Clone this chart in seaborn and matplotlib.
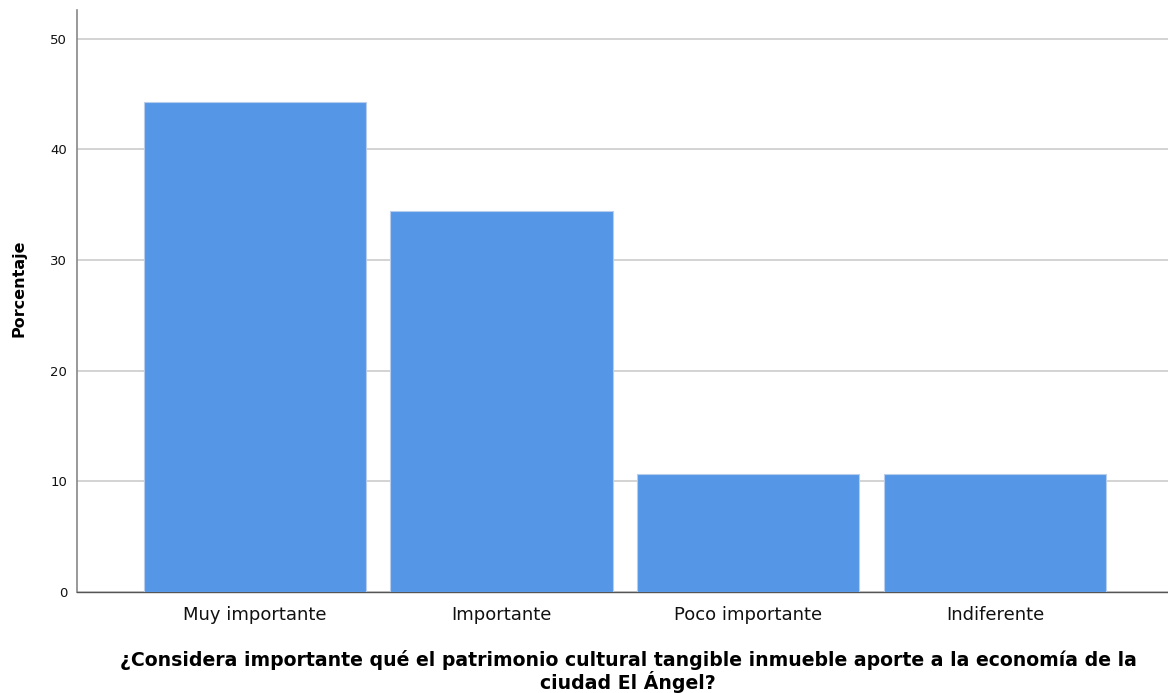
import pandas as pd
import numpy as np
import matplotlib.pyplot as plt
import seaborn as sns

categories = ["Muy importante", "Importante", "Poco importante", "Indiferente"]
porcentaje = [44.26, 34.43, 10.66, 10.66]
y_ticks = [0, 10, 20, 30, 40, 50]

df = pd.DataFrame({"categoria": categories, "porcentaje": porcentaje})

sns.set_style("white")
plt.rcParams["font.family"] = ["DejaVu Sans"]

fig = plt.figure(figsize=(11.68, 6.93), dpi=100)
ax = fig.add_axes([0.0659, 0.1457, 0.9341, 0.8399])

sns.barplot(data=df, x="categoria", y="porcentaje", color="#5596e6",
            width=0.9, saturation=1, edgecolor="#b8cdec", linewidth=0.8,
            ax=ax, zorder=3)

ax.set_ylim(0, 52.6)
ax.set_xlim(-0.72, 3.70)
ax.set_yticks(y_ticks)
ax.yaxis.grid(True, color="#cccccc", linewidth=1.2, zorder=0)
ax.set_axisbelow(True)

for s in ["top", "right"]:
    ax.spines[s].set_visible(False)
ax.spines["left"].set_color("#888888")
ax.spines["bottom"].set_color("#555555")
ax.spines["left"].set_linewidth(1.2)
ax.spines["bottom"].set_linewidth(1.0)

ax.tick_params(axis="y", labelsize=9.5, length=0, pad=7, colors="#111111")
ax.tick_params(axis="x", labelsize=13, length=0, pad=10, colors="#111111")

ax.set_ylabel("Porcentaje", fontsize=11.5, fontweight="bold", color="black")
ax.yaxis.set_label_coords(-0.046, 0.522)
ax.set_xlabel("¿Considera importante qué el patrimonio cultural tangible inmueble aporte a la economía de la\nciudad El Ángel?",
              fontsize=13.6, fontweight="bold", linespacing=1.05, color="black")
ax.xaxis.set_label_coords((628 - 77) / (1168 - 77), -0.100)

fig.savefig("out.png", dpi=100)
